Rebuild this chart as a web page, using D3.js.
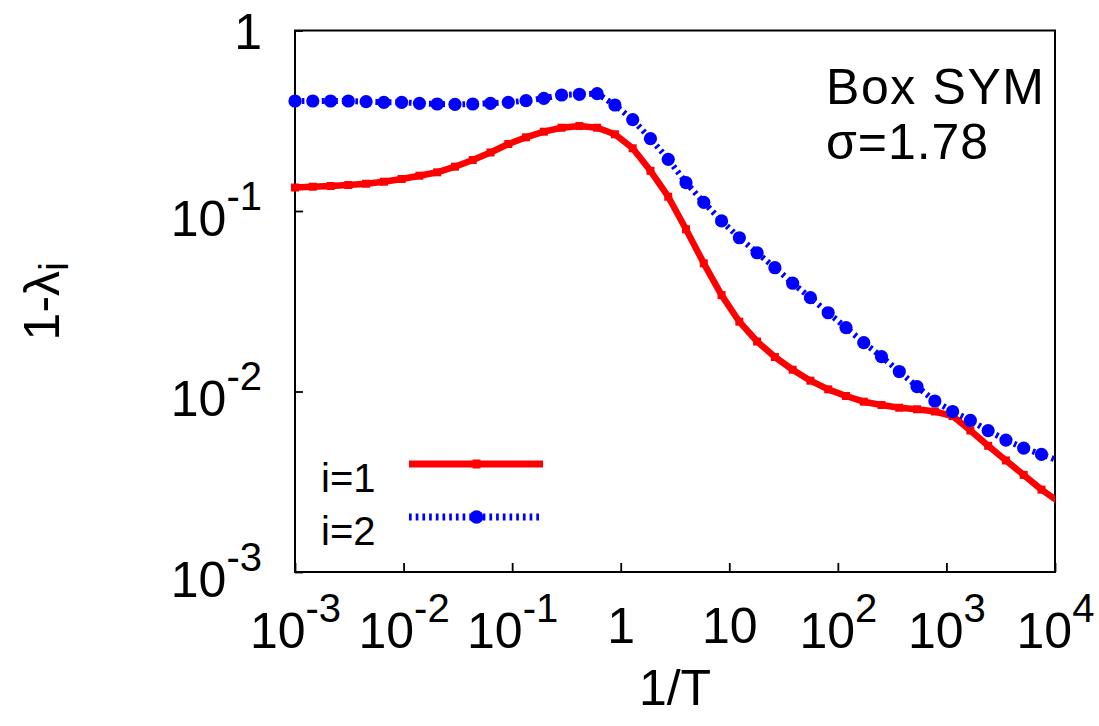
<!DOCTYPE html>
<html>
<head>
<meta charset="utf-8">
<script src="https://cdn.jsdelivr.net/npm/d3@7"></script>
<style>
  html, body { margin: 0; padding: 0; background: #fff; }
  svg text { font-family: "Liberation Sans", Arial, Helvetica, sans-serif; fill: #000; }
</style>
</head>
<body>
<svg id="chart" width="1099" height="726"></svg>
<script>
// Inverse temperature samples (log-spaced)
const invT = [0.001, 0.001458, 0.002126, 0.003098, 0.004517, 0.006586, 0.009602, 0.014, 0.0204, 0.02974,
  0.04335, 0.0632, 0.09213, 0.1343, 0.1958, 0.2855, 0.4161, 0.6067, 0.8844, 1.289,
  1.879, 2.74, 3.994, 5.823, 8.489, 12.38, 18.04, 26.3, 38.34, 55.89,
  81.47, 118.8, 173.2, 252.4, 368, 536.5, 782.1, 1140, 1662, 2423,
  3532, 5149, 7507, 10943];

// 1 - lambda_1
const gap1 = [0.1349, 0.1363, 0.1375, 0.1393, 0.1416, 0.1453, 0.1504, 0.1569, 0.1638, 0.176,
  0.1916, 0.2109, 0.235, 0.256, 0.275, 0.2893, 0.2957, 0.2893, 0.266, 0.2225,
  0.167, 0.12, 0.0792, 0.0513, 0.0342, 0.02436, 0.01892, 0.01553, 0.0132, 0.01148,
  0.01028, 0.00944, 0.00878, 0.00842, 0.00813, 0.00797, 0.00775, 0.00731, 0.00608, 0.005,
  0.00415, 0.00345, 0.00286, 0.00244];

// 1 - lambda_2
const gap2 = [0.4068, 0.4068, 0.4068, 0.4068, 0.4032, 0.4001, 0.4001, 0.3951, 0.3916, 0.39,
  0.3916, 0.3951, 0.4001, 0.4084, 0.4211, 0.4393, 0.4432, 0.4467, 0.3866, 0.3205,
  0.2515, 0.1934, 0.1435, 0.1117, 0.0881, 0.0711, 0.0587, 0.0485, 0.0398, 0.0331,
  0.0273, 0.0226, 0.01864, 0.01559, 0.0129, 0.01064, 0.00886, 0.00775, 0.00691, 0.00607,
  0.00538, 0.00486, 0.00448, 0.00412];

const xTickValues = [1e-3, 1e-2, 1e-1, 1, 10, 1e2, 1e3, 1e4];
const xTickLabels = [["10", "-3"], ["10", "-2"], ["10", "-1"], ["1", ""], ["10", ""], ["10", "2"], ["10", "3"], ["10", "4"]];
const yTickValues = [1e-3, 1e-2, 1e-1, 1];
const yTickLabels = [["10", "-3"], ["10", "-2"], ["10", "-1"], ["1", ""]];

const seriesNames = ["i=1", "i=2"];
const annotation = ["Box SYM", "\u03c3=1.78"];

const svg = d3.select("#chart");
const L = 295, R = 1055, T = 30.5, B = 572;
const FS = 50, SUP = 40;

const x = d3.scaleLog().domain([1e-3, 1e4]).range([L, R]);
const y = d3.scaleLog().domain([1e-3, 1]).range([B, T]);

svg.append("defs").append("clipPath").attr("id", "plotclip")
  .append("rect").attr("x", L).attr("y", T).attr("width", R - L).attr("height", B - T);

// Axes with inward ticks
const xAxis = svg.append("g").attr("transform", `translate(0,${B})`)
  .call(d3.axisBottom(x).tickValues(xTickValues).tickSizeInner(-9).tickSizeOuter(0).tickFormat(() => ""));
const yAxis = svg.append("g").attr("transform", `translate(${L},0)`)
  .call(d3.axisLeft(y).tickValues(yTickValues).tickSizeInner(-8).tickSizeOuter(0).tickFormat(() => ""));
[xAxis, yAxis].forEach(g => {
  g.select(".domain").remove();
  g.selectAll(".tick line").attr("stroke", "#000").attr("stroke-width", 1.8);
  g.selectAll(".tick text").remove();
});

// Tick labels with superscripts
xAxis.selectAll(".tick").each(function (d, i) {
  const lab = xTickLabels[i];
  const t = d3.select(this).append("text")
    .attr("x", 0).attr("y", lab[1] ? 648 - B : 643 - B)
    .attr("text-anchor", "middle").attr("font-size", FS).attr("fill", "#000");
  t.append("tspan").text(lab[0]);
  if (lab[1]) t.append("tspan").attr("font-size", SUP).attr("dy", -26).text(lab[1]);
});
yAxis.selectAll(".tick").each(function (d, i) {
  const lab = yTickLabels[i];
  const t = d3.select(this).append("text")
    .attr("x", 262 - L).attr("y", lab[1] ? 24 : 18)
    .attr("text-anchor", "end").attr("font-size", FS).attr("fill", "#000");
  t.append("tspan").text(lab[0]);
  if (lab[1]) t.append("tspan").attr("font-size", SUP).attr("dy", -26).text(lab[1]);
});

// Axis titles
svg.append("text").attr("x", (L + R) / 2).attr("y", 705).attr("text-anchor", "middle")
  .attr("font-size", FS).text("1/T");
const yt = svg.append("text").attr("transform", `translate(59,${(T + B) / 2}) rotate(-90)`)
  .attr("text-anchor", "middle").attr("font-size", FS);
yt.append("tspan").text("1-\u03bb");
yt.append("tspan").attr("font-size", SUP).attr("dy", 9).text("i");

// Frame
svg.append("rect").attr("x", L).attr("y", T).attr("width", R - L).attr("height", B - T)
  .attr("fill", "none").attr("stroke", "#000").attr("stroke-width", 2);

const d1 = invT.map((v, i) => ({ x: v, y: gap1[i] }));
const d2 = invT.map((v, i) => ({ x: v, y: gap2[i] }));
const inRange = d => d.x >= 1e-3 && d.x <= 1e4;
const line = d3.line().x(d => x(d.x)).y(d => y(d.y));

// Series 1: solid red with small square points
svg.append("path").datum(d1).attr("clip-path", "url(#plotclip)")
  .attr("d", line).attr("fill", "none").attr("stroke", "#ff0000")
  .attr("stroke-width", 6.5).attr("stroke-linejoin", "round");
svg.append("g").selectAll("rect").data(d1.filter(inRange)).join("rect")
  .attr("x", d => x(d.x) - 4).attr("y", d => y(d.y) - 4)
  .attr("width", 8).attr("height", 8).attr("fill", "#ff0000");

// Series 2: dotted blue with filled circles
svg.append("path").datum(d2).attr("clip-path", "url(#plotclip)")
  .attr("d", line).attr("fill", "none").attr("stroke", "#0000ff")
  .attr("stroke-width", 6).attr("stroke-dasharray", "2.7,4");
svg.append("g").selectAll("circle").data(d2.filter(inRange)).join("circle")
  .attr("cx", d => x(d.x)).attr("cy", d => y(d.y)).attr("r", 6.6).attr("fill", "#0000ff");

// Legend
const legY = [464, 517];
const legText = [492, 545];
svg.append("line").attr("x1", 409).attr("x2", 543).attr("y1", legY[0]).attr("y2", legY[0])
  .attr("stroke", "#ff0000").attr("stroke-width", 7);
svg.append("rect").attr("x", 472.5).attr("y", legY[0] - 4.5).attr("width", 8).attr("height", 9).attr("fill", "#ff0000");
svg.append("line").attr("x1", 409).attr("x2", 543).attr("y1", legY[1]).attr("y2", legY[1])
  .attr("stroke", "#0000ff").attr("stroke-width", 7).attr("stroke-dasharray", "2.7,4");
svg.append("circle").attr("cx", 476.5).attr("cy", legY[1]).attr("r", 6.8).attr("fill", "#0000ff");
seriesNames.forEach((s, i) => {
  svg.append("text").attr("x", 321).attr("y", legText[i]).attr("font-size", 40).text(s);
});

// Annotation (gnuplot-style wide Helvetica spacing)
const annoWidth = [218, 162];
annotation.forEach((s, i) => {
  svg.append("text").attr("x", 826).attr("y", 104 + i * 55).attr("font-size", FS)
    .attr("textLength", annoWidth[i]).attr("lengthAdjust", "spacing").text(s);
});
</script>
</body>
</html>
